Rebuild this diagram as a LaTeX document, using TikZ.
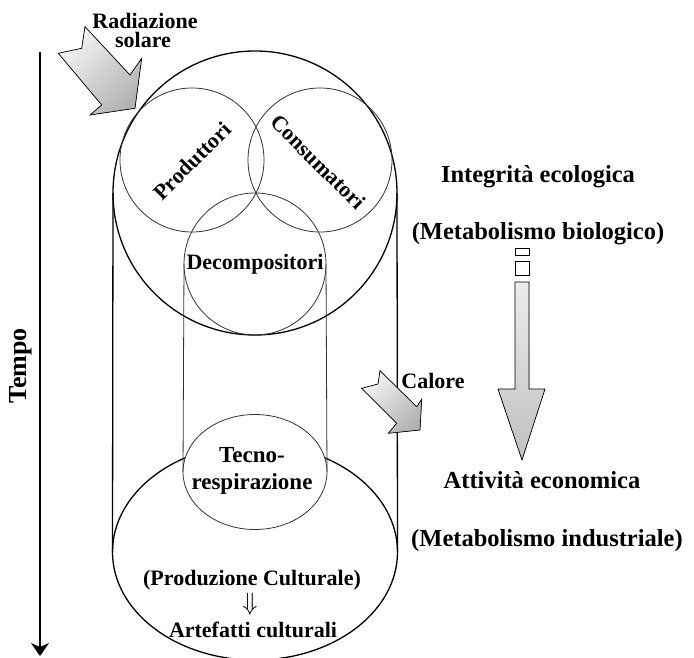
\documentclass[tikz,border=0pt]{standalone}
\usepackage{fontspec}
\setmainfont{Liberation Serif}
\usetikzlibrary{shapes.geometric,arrows.meta}
\begin{document}
\begin{tikzpicture}[x=1pt,y=-1pt,
  lbl/.style={font=\bfseries\fontsize{22}{24}\selectfont, inner sep=0pt},
  biglbl/.style={font=\bfseries\fontsize{24.5}{27}\selectfont, inner sep=0pt},
  heavy/.style={line width=1.3pt},
  ring/.style={circle, draw=black!80, line width=0.8pt, inner sep=0pt, outer sep=0pt, minimum size=144pt},
  thinline/.style={draw=black!80, line width=0.8pt},
  sunarrow/.style={draw=black, line width=0.7pt, top color=gray!8, bottom color=gray!60, shading angle=45},
]
\useasboundingbox (0,0) rectangle (694,658);

% time axis
\coordinate (t0) at (40,52);
\coordinate (t1) at (40,656);
\draw[line width=1.3pt, -{Stealth[length=13pt,width=18pt,inset=4pt]}] (t0) -- (t1);
\node[font=\bfseries\fontsize{26}{28}\selectfont, inner sep=0pt, rotate=90] (tempo) at (21,366) {Tempo};

% ecosystem (top) and industrial system (bottom)
\node[ellipse, draw, heavy, inner sep=0pt, outer sep=0pt, minimum width=285pt, minimum height=216pt] (ind) at (255,552) {};
\node[circle, draw, heavy, inner sep=0pt, outer sep=0pt, minimum size=284pt] (eco) at (255,193) {};
\draw[heavy] (eco.west) -- (ind.west);
\draw[heavy] (eco.east) -- (ind.east);

% trophic rings
\node[ring] (prod) at (192,160) {};
\node[ring] (cons) at (320,160) {};
\node[ring, minimum size=142pt] (dec) at (255,264) {};
\node[ellipse, draw=black!80, line width=0.8pt, fill=white, inner sep=0pt, outer sep=0pt, minimum width=144pt, minimum height=115pt] (tec) at (255,472) {};
\draw[thinline] (dec.west) -- (tec.west);
\draw[thinline] (dec.east) -- (tec.east);

\node[lbl, rotate=45] (prodtxt) at (192,161) {Produttori};
\node[lbl, rotate=-45] (constxt) at (318,162) {Consumatori};
\node[lbl] (dectxt) at (255,264) {Decompositori};
\node[lbl, font=\bfseries\fontsize{23}{27}\selectfont, align=center] (tectxt) at (252,471) {Tecno-\\respirazione};
\node[lbl] (cult) at (252,580) {(Produzione Culturale)};
\node[inner sep=0pt, font=\fontsize{24}{24}\selectfont] (down) at (250,604) {$\Downarrow$};
\node[lbl] (arte) at (253,630) {Artefatti culturali};

% solar radiation and heat
\node[lbl] (rad1) at (145,21) {Radiazione};
\node[lbl] (rad2) at (143,40) {solare};
\filldraw[sunarrow] (58.3,53.3) -- (81.7,48.3) -- (85,26.7) -- (130,75) -- (141.7,58.3)
  -- (135,108.3) -- (90,115) -- (101.7,105) -- cycle;
\filldraw[sunarrow] (361.7,388.3) -- (378,384) -- (380,370.7) -- (416.7,406.7) -- (421.7,399.3)
  -- (420,430) -- (388.3,433.3) -- (396.7,423.3) -- cycle;
\node[lbl] (calore) at (433,381) {Calore};

% right column
\node[biglbl] (integ) at (538,177) {Integrità ecologica};
\node[biglbl] (metbio) at (538,234) {(Metabolismo biologico)};
\node[biglbl] (attiv) at (542,480) {Attività economica};
\node[biglbl] (metind) at (547,541) {(Metabolismo industriale)};

\draw[line width=0.7pt, fill=white] (515,248) rectangle (529,255);
\draw[line width=0.7pt, fill=white] (515,261) rectangle (529,275);
\filldraw[draw=black, line width=0.7pt, top color=gray!15, bottom color=gray!50]
  (515,282) -- (529,282) -- (529,389) -- (545,389) -- (522,460) -- (498,389) -- (515,389) -- cycle;
\end{tikzpicture}
\end{document}
